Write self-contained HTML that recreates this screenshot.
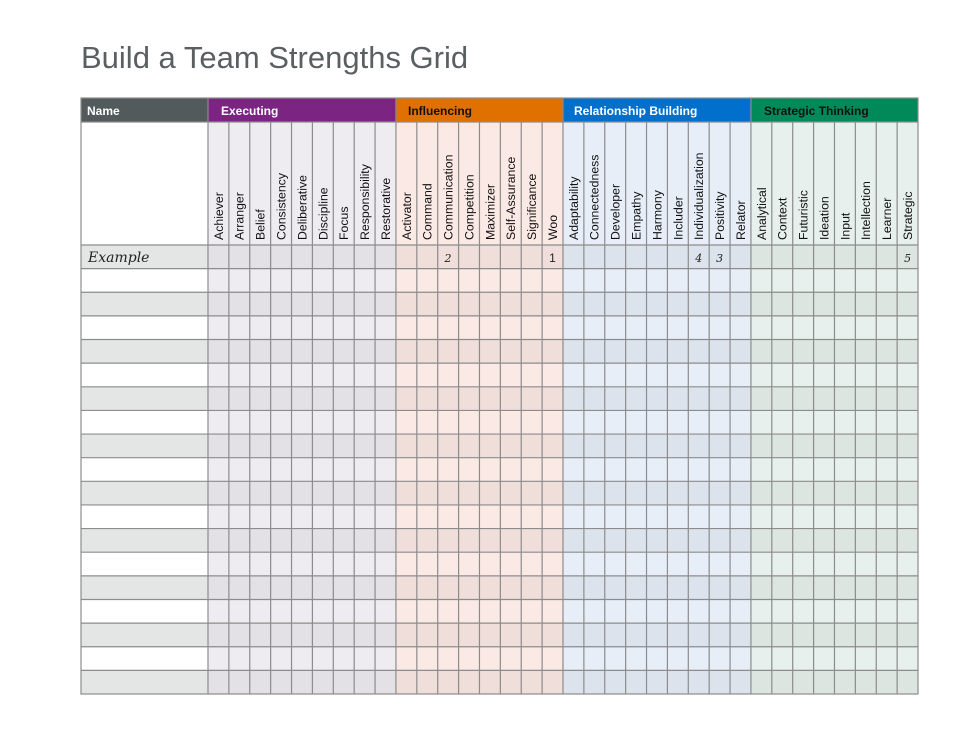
<!DOCTYPE html>
<html><head><meta charset="utf-8"><style>
html,body{margin:0;padding:0;background:#fff;width:969px;height:746px;overflow:hidden}
svg{display:block}
.t{font-family:"Liberation Sans",sans-serif;font-size:12.3px;fill:#111}
.h{font-family:"Liberation Sans",sans-serif;font-size:12px;font-weight:bold}
</style></head><body>
<svg width="969" height="746" viewBox="0 0 969 746" xmlns="http://www.w3.org/2000/svg">
<text x="81" y="68" font-family="Liberation Sans, sans-serif" font-size="31" fill="#5a5f61" font-weight="300">Build a Team Strengths Grid</text>
<rect x="81" y="98" width="127" height="24" fill="#535a5c"/>
<rect x="208" y="98" width="187.94" height="24" fill="#7b2482"/>
<rect x="395.94" y="98" width="167.06" height="24" fill="#e07000"/>
<rect x="563" y="98" width="187.94" height="24" fill="#0070cc"/>
<rect x="750.94" y="98" width="167.06" height="24" fill="#008a5a"/>
<text class="h" x="87" y="115" fill="#fff">Name</text>
<text class="h" x="221" y="115" fill="#fff">Executing</text>
<text class="h" x="408" y="115" fill="#111">Influencing</text>
<text class="h" x="574" y="115" fill="#fff">Relationship Building</text>
<text class="h" x="764" y="115" fill="#111">Strategic Thinking</text>
<rect x="81" y="122" width="127" height="572" fill="#fff"/>
<rect x="208" y="122" width="187.94" height="572" fill="#eeebf1"/>
<rect x="395.94" y="122" width="167.06" height="572" fill="#fbe9e5"/>
<rect x="563" y="122" width="187.94" height="572" fill="#e7eef8"/>
<rect x="750.94" y="122" width="167.06" height="572" fill="#e7f0ec"/>
<g>
<rect x="81" y="245" width="127" height="23.63" fill="#e4e6e6"/>
<rect x="81" y="292.26" width="127" height="23.63" fill="#e4e6e6"/>
<rect x="81" y="339.53" width="127" height="23.63" fill="#e4e6e6"/>
<rect x="81" y="386.79" width="127" height="23.63" fill="#e4e6e6"/>
<rect x="81" y="434.05" width="127" height="23.63" fill="#e4e6e6"/>
<rect x="81" y="481.32" width="127" height="23.63" fill="#e4e6e6"/>
<rect x="81" y="528.58" width="127" height="23.63" fill="#e4e6e6"/>
<rect x="81" y="575.84" width="127" height="23.63" fill="#e4e6e6"/>
<rect x="81" y="623.11" width="127" height="23.63" fill="#e4e6e6"/>
<rect x="81" y="670.37" width="127" height="23.63" fill="#e4e6e6"/>
</g>
<g fill="#000" fill-opacity="0.045">
<rect x="208" y="245" width="710" height="23.63"/>
<rect x="208" y="292.26" width="710" height="23.63"/>
<rect x="208" y="339.53" width="710" height="23.63"/>
<rect x="208" y="386.79" width="710" height="23.63"/>
<rect x="208" y="434.05" width="710" height="23.63"/>
<rect x="208" y="481.32" width="710" height="23.63"/>
<rect x="208" y="528.58" width="710" height="23.63"/>
<rect x="208" y="575.84" width="710" height="23.63"/>
<rect x="208" y="623.11" width="710" height="23.63"/>
<rect x="208" y="670.37" width="710" height="23.63"/>
</g>
<g stroke="#8c8c8c" stroke-width="1.2" fill="none">
<rect x="81" y="98" width="837" height="596"/>
<line x1="81" y1="122" x2="918" y2="122"/>
<path d="M81 245H918M81 268.63H918M81 292.26H918M81 315.89H918M81 339.53H918M81 363.16H918M81 386.79H918M81 410.42H918M81 434.05H918M81 457.68H918M81 481.32H918M81 504.95H918M81 528.58H918M81 552.21H918M81 575.84H918M81 599.47H918M81 623.11H918M81 646.74H918M81 670.37H918"/>
<path d="M208 98V694M395.94 98V694M563 98V694M750.94 98V694"/>
<path d="M228.88 122V694M249.76 122V694M270.65 122V694M291.53 122V694M312.41 122V694M333.29 122V694M354.18 122V694M375.06 122V694M416.82 122V694M437.71 122V694M458.59 122V694M479.47 122V694M500.35 122V694M521.24 122V694M542.12 122V694M583.88 122V694M604.76 122V694M625.65 122V694M646.53 122V694M667.41 122V694M688.29 122V694M709.18 122V694M730.06 122V694M771.82 122V694M792.71 122V694M813.59 122V694M834.47 122V694M855.35 122V694M876.24 122V694M897.12 122V694"/>
</g>
<g class="t">
<text transform="translate(222.8,240) rotate(-90)">Achiever</text>
<text transform="translate(243.7,240) rotate(-90)">Arranger</text>
<text transform="translate(264.6,240) rotate(-90)">Belief</text>
<text transform="translate(285.5,240) rotate(-90)">Consistency</text>
<text transform="translate(306.4,240) rotate(-90)">Deliberative</text>
<text transform="translate(327.3,240) rotate(-90)">Discipline</text>
<text transform="translate(348.1,240) rotate(-90)">Focus</text>
<text transform="translate(369.0,240) rotate(-90)">Responsibility</text>
<text transform="translate(389.9,240) rotate(-90)">Restorative</text>
<text transform="translate(410.8,240) rotate(-90)">Activator</text>
<text transform="translate(431.7,240) rotate(-90)">Command</text>
<text transform="translate(452.6,240) rotate(-90)">Communication</text>
<text transform="translate(473.4,240) rotate(-90)">Competition</text>
<text transform="translate(494.3,240) rotate(-90)">Maximizer</text>
<text transform="translate(515.2,240) rotate(-90)">Self-Assurance</text>
<text transform="translate(536.1,240) rotate(-90)">Significance</text>
<text transform="translate(557.0,240) rotate(-90)">Woo</text>
<text transform="translate(577.8,240) rotate(-90)">Adaptability</text>
<text transform="translate(598.7,240) rotate(-90)">Connectedness</text>
<text transform="translate(619.6,240) rotate(-90)">Developer</text>
<text transform="translate(640.5,240) rotate(-90)">Empathy</text>
<text transform="translate(661.4,240) rotate(-90)">Harmony</text>
<text transform="translate(682.3,240) rotate(-90)">Includer</text>
<text transform="translate(703.1,240) rotate(-90)">Individualization</text>
<text transform="translate(724.0,240) rotate(-90)">Positivity</text>
<text transform="translate(744.9,240) rotate(-90)">Relator</text>
<text transform="translate(765.8,240) rotate(-90)">Analytical</text>
<text transform="translate(786.7,240) rotate(-90)">Context</text>
<text transform="translate(807.6,240) rotate(-90)">Futuristic</text>
<text transform="translate(828.4,240) rotate(-90)">Ideation</text>
<text transform="translate(849.3,240) rotate(-90)">Input</text>
<text transform="translate(870.2,240) rotate(-90)">Intellection</text>
<text transform="translate(891.1,240) rotate(-90)">Learner</text>
<text transform="translate(912.0,240) rotate(-90)">Strategic</text>
</g>
<text x="88" y="262" font-family="DejaVu Serif, serif" font-style="italic" font-size="14" fill="#222">Example</text>
<text x="448" y="262" text-anchor="middle" font-family="DejaVu Serif, serif" font-style="italic" font-size="11" fill="#222">2</text>
<text x="552.5" y="262" text-anchor="middle" font-family="Liberation Sans, sans-serif" font-size="12" fill="#222">1</text>
<text x="698.7" y="262" text-anchor="middle" font-family="DejaVu Serif, serif" font-style="italic" font-size="11" fill="#222">4</text>
<text x="719.6" y="262" text-anchor="middle" font-family="DejaVu Serif, serif" font-style="italic" font-size="11" fill="#222">3</text>
<text x="907.6" y="262" text-anchor="middle" font-family="DejaVu Serif, serif" font-style="italic" font-size="11" fill="#222">5</text>
</svg>
</body></html>
